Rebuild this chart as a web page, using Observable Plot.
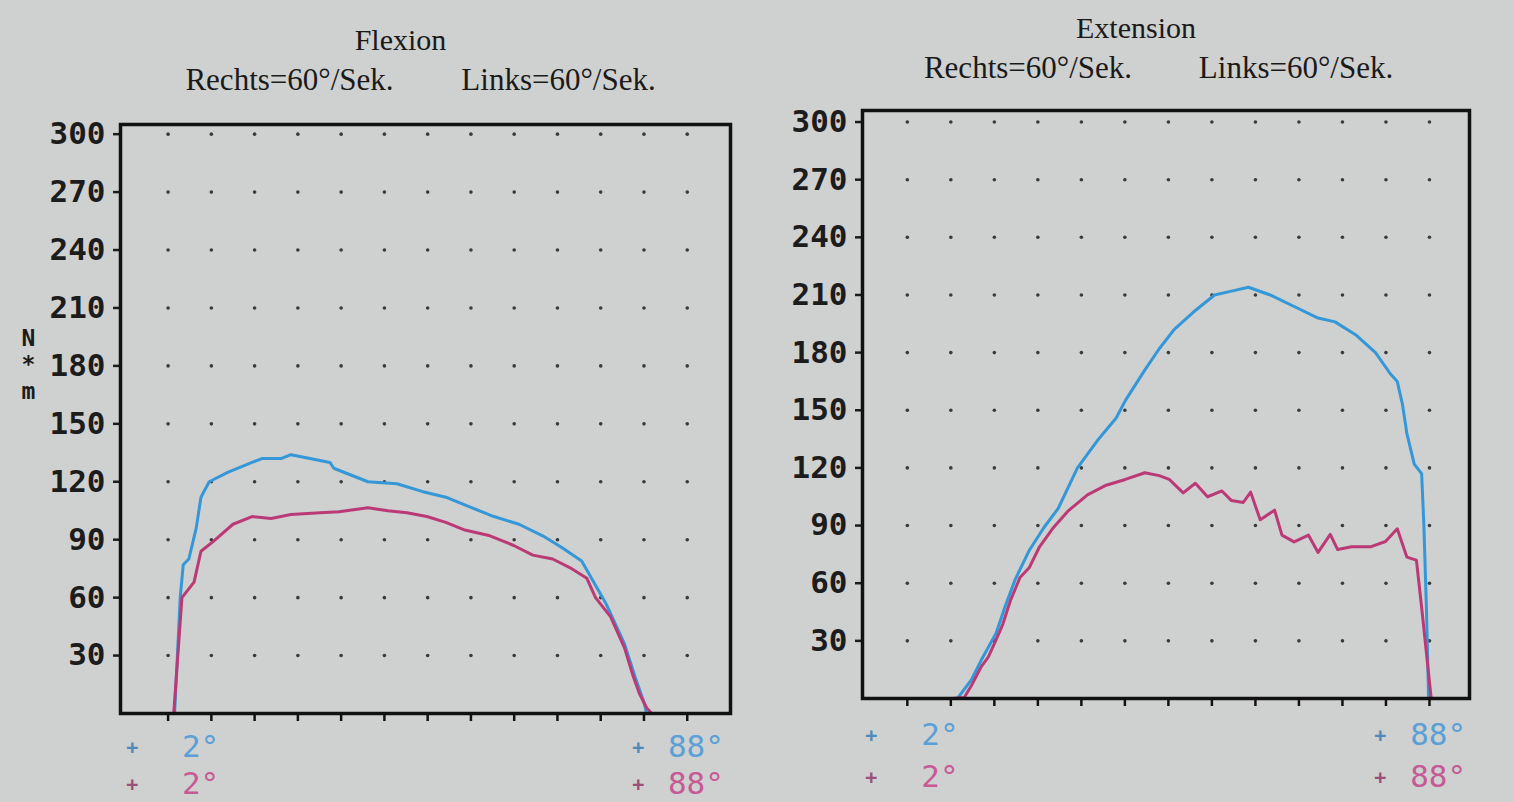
<!DOCTYPE html>
<html><head><meta charset="utf-8">
<script src="https://cdn.jsdelivr.net/npm/d3@7"></script>
<script src="https://cdn.jsdelivr.net/npm/@observablehq/plot@0.6"></script>
<style>
html,body{margin:0;padding:0;background:#cfd0d0;width:1514px;height:802px;overflow:hidden;}
#wrap{position:relative;width:1514px;height:802px;}
.panel{position:absolute;top:0;}
</style></head><body>
<div id="wrap"><div id="left" class="panel" style="left:0"></div><div id="right" class="panel" style="left:757px"></div></div>
<script>
// ---- data ----
const gridX = [0,1,2,3,4,5,6,7,8,9,10,11,12];           // unlabelled angle ticks
const torqueTicks = [30,60,90,120,150,180,210,240,270,300]; // N*m
const angleLabels = ["2°", "88°"];
const angleLabelX = [0.75, 12.2];
const plusX = [-0.83, 10.87];
const speedTexts = ["Rechts=60°/Sek.", "Links=60°/Sek."];

// Flexion, Rechts (blue)
const flexRechtsPos = [0.15,0.28,0.35,0.48,0.65,0.76,0.95,1.39,1.94,2.17,2.61,2.84,3.28,3.74,3.83,4.62,5.29,5.87,6.42,6.97,7.53,8.11,8.66,9.10,9.56,9.84,10.12,10.55,10.78,11.01,11.06];
const flexRechtsNm  = [0,60,77,80,96,112,120,125,130,132,132,134,132,130,127,120,119,115,112,107,102,98,92,86,79,68,57,36,20,5,0];
// Flexion, Links (pink)
const flexLinksPos = [0.13,0.32,0.60,0.76,1.04,1.50,1.94,2.38,2.84,3.51,3.95,4.62,5.08,5.52,5.98,6.42,6.86,7.44,7.99,8.43,8.89,9.33,9.68,9.88,10.23,10.55,10.74,10.90,11.06,11.18];
const flexLinksNm  = [0,60,68,84,89,98,102,101,103,104,104.5,106.5,105,104,102,99,95,92,87,82,80,75,70,60,50,34,20,10,3,0];
// Extension, Rechts (blue)
const extRechtsPos = [1.15,1.48,1.70,2.04,2.25,2.48,2.80,3.14,3.47,3.91,4.36,4.80,5.01,5.46,5.79,6.13,6.57,7.06,7.45,7.84,8.34,8.89,9.44,9.83,10.32,10.76,11.10,11.26,11.38,11.48,11.65,11.82,11.87,11.93,11.98];
const extRechtsNm  = [0,10,20,34,48,62,77,89,99,120,134,146,155,171,182,192,201,210,212,214,210,204,198,196,189,180,169,165,153,138,122,117,91,47,0];
// Extension, Links (pink)
const extLinksPos = [1.03,1.31,1.48,1.70,1.86,2.04,2.20,2.37,2.59,2.80,3.03,3.36,3.69,4.14,4.57,5.01,5.46,5.79,6.02,6.34,6.62,6.90,7.23,7.45,7.72,7.89,8.11,8.44,8.61,8.89,9.22,9.44,9.72,9.89,10.21,10.66,10.99,11.26,11.48,11.70,11.82,12.04];
const extLinksNm  = [0,0.5,7,16.6,21.5,30.5,39,51,63,68,78.6,89,97.5,106,111,114,117.5,116,114,107,112,105,108,103,102,107.4,93,98,85,81.5,85,76,85.4,77.5,79,79,81.7,88.3,73.6,72,47.4,0];

// ---- styles ----
const BLUE = "#3497d8", PINK = "#bb3a76";
const BLUE_T = "#5aa0d6", PINK_T = "#c65a95";
const MONO = "DejaVu Sans Mono", SERIF = "Liberation Serif";

const rows = (xs, ys) => xs.map((x, i) => ({x, y: ys[i]}));

function panel(el, cfg) {
  const T = {lineAnchor: "middle"};
  const marks = [
    Plot.dot(d3.cross(gridX, torqueTicks), {x: d => d[0], y: d => d[1], r: 1.8, fill: "#3a3a3a", stroke: null}),
    Plot.axisY(torqueTicks, {anchor: "left", tickSize: 7, tickPadding: 8, strokeWidth: 2.5, color: "#1c1c1c",
      fontSize: 31, fontWeight: "bold", fontFamily: MONO, label: null}),
    Plot.axisX(gridX, {anchor: "bottom", tickSize: 8, tickFormat: () => "", strokeWidth: 2.5, color: "#111", label: null}),
    Plot.line(rows(cfg.bluePos, cfg.blueNm), {x: "x", y: "y", stroke: BLUE, strokeWidth: 3}),
    Plot.line(rows(cfg.pinkPos, cfg.pinkNm), {x: "x", y: "y", stroke: PINK, strokeWidth: 3}),
    Plot.frame({stroke: "#111", strokeWidth: 3.5}),
    Plot.text([cfg.title], {...T, frameAnchor: "top", dx: cfg.titleDx, dy: cfg.titleDy, fontFamily: SERIF, fontSize: 30, fill: "#1a1a1a"}),
    Plot.text([speedTexts[0]], {...T, frameAnchor: "top", dx: cfg.sub1Dx, dy: cfg.subDy, fontFamily: SERIF, fontSize: 31, fill: "#1a1a1a"}),
    Plot.text([speedTexts[1]], {...T, frameAnchor: "top", dx: cfg.sub2Dx, dy: cfg.subDy, fontFamily: SERIF, fontSize: 31, fill: "#1a1a1a"}),
    Plot.text(angleLabels, {...T, x: (d, i) => angleLabelX[i], frameAnchor: "bottom", dy: cfg.blueDy, text: d => d, fontFamily: MONO, fontSize: 31, fill: BLUE_T}),
    Plot.text(angleLabels, {...T, x: (d, i) => angleLabelX[i], frameAnchor: "bottom", dy: cfg.pinkDy, text: d => d, fontFamily: MONO, fontSize: 31, fill: PINK_T}),
    Plot.text(angleLabels, {...T, x: (d, i) => plusX[i], frameAnchor: "bottom", dy: cfg.blueDy, text: () => "+", fontFamily: MONO, fontSize: 20, fontWeight: "bold", fill: "#4f8ab8"}),
    Plot.text(angleLabels, {...T, x: (d, i) => plusX[i], frameAnchor: "bottom", dy: cfg.pinkDy, text: () => "+", fontFamily: MONO, fontSize: 20, fontWeight: "bold", fill: "#9c5079"})
  ];
  if (cfg.unit) marks.push(Plot.text([cfg.unit], {frameAnchor: "left", dx: -99, dy: -55, fontFamily: MONO, fontWeight: "bold", fontSize: 23, lineHeight: 1.15, fill: "#1c1c1c"}));
  const p = Plot.plot({
    width: 757, height: 802,
    marginLeft: cfg.ml, marginRight: cfg.mr, marginTop: cfg.mt, marginBottom: cfg.mb,
    x: {domain: cfg.xDomain, axis: null},
    y: {domain: cfg.yDomain, axis: null},
    style: {background: "transparent", overflow: "visible"},
    marks
  });
  document.getElementById(el).appendChild(p);
}

panel("left", {
  bluePos: flexRechtsPos, blueNm: flexRechtsNm, pinkPos: flexLinksPos, pinkNm: flexLinksNm,
  title: "Flexion", unit: "N\n*\nm",
  ml: 120, mr: 27, mt: 124, mb: 89, xDomain: [-1.1, 13], yDomain: [0, 305],
  titleDx: -25, titleDy: -84, subDy: -44, sub1Dx: -136, sub2Dx: 133,
  blueDy: 34, pinkDy: 71
});
panel("right", {
  bluePos: extRechtsPos, blueNm: extRechtsNm, pinkPos: extLinksPos, pinkNm: extLinksNm,
  title: "Extension", unit: null,
  ml: 105, mr: 45, mt: 110, mb: 104, xDomain: [-1.03, 12.92], yDomain: [0, 306],
  titleDx: -30, titleDy: -82, subDy: -42, sub1Dx: -138, sub2Dx: 130,
  blueDy: 37, pinkDy: 79
});
</script>
</body></html>
